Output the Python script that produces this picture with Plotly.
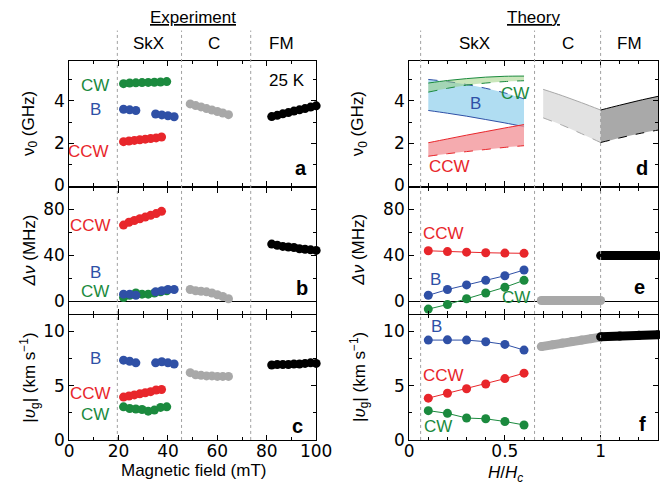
import plotly.graph_objects as go

W, H = 668, 487

# ---------------- Data: Experiment ----------------
exp_cw_x = [22, 24.5, 27, 29.5, 32, 34.5, 37, 39.5]
exp_cw_nu = [4.82, 4.85, 4.86, 4.87, 4.88, 4.89, 4.9, 4.92]
exp_b_x = [22, 24.5, 27, 35, 37.5, 40, 42.5]
exp_b_nu = [3.61, 3.58, 3.55, 3.38, 3.34, 3.3, 3.25]
exp_ccw_x = [22, 24.2, 26.4, 28.6, 30.8, 33, 35.2, 37.4]
exp_ccw_nu = [2.07, 2.1, 2.13, 2.16, 2.19, 2.22, 2.25, 2.29]
exp_c_x = [49, 51.2, 53.4, 55.6, 57.8, 60, 62.2, 64.5]
exp_c_nu = [3.86, 3.78, 3.72, 3.64, 3.57, 3.5, 3.43, 3.35]
exp_fm_x = [82, 84.25, 86.5, 88.75, 91, 93.25, 95.5, 97.75, 100]
exp_fm_nu = [3.26, 3.32, 3.39, 3.45, 3.52, 3.58, 3.64, 3.71, 3.77]

exp_ccw_dnu = [66, 68.5, 70, 71.5, 73, 74.5, 76, 78]
exp_cw_dnu = [3, 5, 7, 6, 6, 7, 8, 9]
exp_b_dnu = [6, 6, 5, 8, 9, 10, 10]
exp_c_dnu = [10, 9, 8.5, 8, 7, 5.5, 4, 2]
exp_fm_dnu = [49.5, 48.5, 47.5, 47, 46.5, 45.5, 45, 44.5, 44]

exp_b_vg = [7.35, 7.25, 7.1, 7.1, 7.2, 7.1, 7.0]
exp_ccw_vg = [3.95, 4.05, 4.15, 4.25, 4.35, 4.45, 4.6, 4.65]
exp_cw_vg = [3.05, 2.9, 2.85, 2.8, 2.65, 2.75, 3.0, 3.05]
exp_c_vg = [6.2, 6.0, 5.95, 5.9, 5.9, 5.85, 5.85, 5.85]
exp_fm_vg = [6.9, 6.95, 6.95, 6.95, 7.0, 7.0, 7.05, 7.1, 7.05]

# ---------------- Data: Theory ----------------
th_skx_x = [0.1, 0.2, 0.3, 0.4, 0.5, 0.6]
th_cw_top = [4.85, 4.97, 5.06, 5.13, 5.17, 5.18]
th_cw_bot = [4.42, 4.6, 4.75, 4.85, 4.92, 4.96]
th_b_top = [5.02, 4.92, 4.78, 4.6, 4.38, 4.1]
th_b_bot = [3.55, 3.42, 3.28, 3.12, 2.96, 2.78]
th_ccw_top = [2.02, 2.2, 2.38, 2.55, 2.72, 2.88]
th_ccw_bot = [1.38, 1.5, 1.6, 1.7, 1.8, 1.88]
th_c_x = [0.7, 0.8, 0.9, 1.0]
th_c_top = [4.55, 4.25, 3.92, 3.57]
th_c_bot = [3.2, 2.85, 2.45, 2.03]
th_fm_x = [1.0, 1.1, 1.2, 1.3]
th_fm_top = [3.57, 3.8, 4.02, 4.22]
th_fm_bot = [2.03, 2.25, 2.45, 2.62]

th_ccw_dnu = [43.7, 43, 42.5, 42, 41.7, 41.5]
th_b_dnu = [5, 10, 14, 18, 22, 27]
th_cw_dnu = [-7, -3, 2, 7, 12, 18]
th_c_line_x = [0.69, 1.0]
th_c_dnu = [0.5, 0.5]
th_fm_line_x = [1.0, 1.3]
th_fm_dnu = [39.5, 39.5]

th_b_vg = [9.2, 9.22, 9.2, 9.05, 8.8, 8.28]
th_ccw_vg = [3.85, 4.3, 4.72, 5.15, 5.65, 6.15]
th_cw_vg = [2.7, 2.45, 2.02, 1.95, 1.7, 1.38]
th_c_vg_x = [0.69, 0.75, 0.8, 0.85, 0.9, 0.95, 1.0]
th_c_vg = [8.6, 8.78, 8.92, 9.07, 9.2, 9.33, 9.47]
th_fm_vg_x = [1.0, 1.1, 1.2, 1.3]
th_fm_vg = [9.5, 9.58, 9.64, 9.7]

exp_bounds = [19.5, 45.5, 73.5]
th_bounds = [0.06, 0.655, 1.0]
phase_labels = ["SkX", "C", "FM"]

# ---------------- Styles ----------------
GREEN = "#1b8a3e"
BLUE = "#2f50a6"
RED = "#e8262b"
GRAY = "#a8a8a8"
BLACK = "#000000"
FONT = "Liberation Sans, Arial, sans-serif"
TFONT = "DejaVu Sans, sans-serif"

def px(x):
    return x / W

def py(y):
    return 1 - y / H

fig = go.Figure()

MS = 9

def dots(x, y, color, xa, ya, mode="markers", lw=1):
    fig.add_trace(go.Scatter(
        x=x, y=y, mode=mode, xaxis=xa, yaxis=ya,
        marker=dict(size=MS, color=color),
        line=dict(color=color, width=lw),
        cliponaxis=False, showlegend=False, hoverinfo="skip"))

# Experiment panel a
dots(exp_cw_x, exp_cw_nu, GREEN, "x", "y")
dots(exp_b_x, exp_b_nu, BLUE, "x", "y")
dots(exp_ccw_x, exp_ccw_nu, RED, "x", "y")
dots(exp_c_x, exp_c_nu, GRAY, "x", "y")
dots(exp_fm_x, exp_fm_nu, BLACK, "x", "y")
# panel b
dots(exp_ccw_x, exp_ccw_dnu, RED, "x2", "y2")
dots(exp_cw_x, exp_cw_dnu, GREEN, "x2", "y2")
dots(exp_b_x, exp_b_dnu, BLUE, "x2", "y2")
dots(exp_c_x, exp_c_dnu, GRAY, "x2", "y2")
dots(exp_fm_x, exp_fm_dnu, BLACK, "x2", "y2")
# panel c
dots(exp_b_x, exp_b_vg, BLUE, "x3", "y3")
dots(exp_ccw_x, exp_ccw_vg, RED, "x3", "y3")
dots(exp_cw_x, exp_cw_vg, GREEN, "x3", "y3")
dots(exp_c_x, exp_c_vg, GRAY, "x3", "y3")
dots(exp_fm_x, exp_fm_vg, BLACK, "x3", "y3")

# Theory panel d: bands
def band(x, lower, upper, fillcolor, color, lower_dash, upper_dash):
    fig.add_trace(go.Scatter(x=x, y=lower, mode="lines", xaxis="x4", yaxis="y4",
                             line=dict(color=color, width=1, dash=lower_dash, shape="spline"),
                             showlegend=False, hoverinfo="skip"))
    fig.add_trace(go.Scatter(x=x, y=upper, mode="lines", xaxis="x4", yaxis="y4",
                             fill="tonexty", fillcolor=fillcolor,
                             line=dict(color=color, width=1, dash=upper_dash, shape="spline"),
                             showlegend=False, hoverinfo="skip"))

band(th_skx_x, th_b_bot, th_b_top, "rgba(150,210,238,0.75)", BLUE, "solid", "dash")
band(th_skx_x, th_cw_bot, th_cw_top, "rgba(150,205,120,0.5)", GREEN, "dash", "solid")
band(th_skx_x, th_ccw_bot, th_ccw_top, "rgba(242,150,155,0.8)", RED, "dash", "solid")
band(th_c_x, th_c_bot, th_c_top, "#e2e2e2", GRAY, "dash", "solid")
band(th_fm_x, th_fm_bot, th_fm_top, "#a9a9a9", BLACK, "dash", "solid")

# panel e
dots(th_skx_x, th_ccw_dnu, RED, "x5", "y5", mode="lines+markers")
dots(th_skx_x, th_b_dnu, BLUE, "x5", "y5", mode="lines+markers")
dots(th_skx_x, th_cw_dnu, GREEN, "x5", "y5", mode="lines+markers")
dots(th_c_line_x, th_c_dnu, GRAY, "x5", "y5", mode="lines+markers", lw=MS)
dots(th_fm_line_x, th_fm_dnu, BLACK, "x5", "y5", mode="lines+markers", lw=MS)
# panel f
dots(th_skx_x, th_b_vg, BLUE, "x6", "y6", mode="lines+markers")
dots(th_skx_x, th_ccw_vg, RED, "x6", "y6", mode="lines+markers")
dots(th_skx_x, th_cw_vg, GREEN, "x6", "y6", mode="lines+markers")
dots(th_c_vg_x, th_c_vg, GRAY, "x6", "y6", mode="lines+markers", lw=MS)
dots(th_fm_vg_x, th_fm_vg, BLACK, "x6", "y6", mode="lines+markers", lw=MS)

# ---------------- Axes ----------------
LX = [px(58), px(313)]
RX = [px(409), px(666)]
ROWS = [[py(181.5), py(54)], [py(312), py(183.5)], [py(441), py(313)]]
YR = [[-0.02, 5.9], [-10.9, 98.5], [0, 11.55]]
YD = [(2, 1), (40, 20), (5, 2.5)]

def axis_common():
    return dict(showline=True, linecolor="black", linewidth=1, mirror="allticks",
                ticks="inside", ticklen=5, tickwidth=1, tickcolor="black",
                showgrid=False, zeroline=False,
                tickfont=dict(family=TFONT, size=17, color="black"))

layout = dict(width=W, height=H, margin=dict(l=0, r=0, t=0, b=0),
              plot_bgcolor="white", paper_bgcolor="white",
              font=dict(family=FONT, size=16, color="black"), showlegend=False)

for i in range(6):
    col = 0 if i < 3 else 1
    row = i % 3
    n = "" if i == 0 else str(i + 1)
    xa = axis_common()
    xa.update(domain=LX if col == 0 else RX, anchor="y" + n, ticklabelstandoff=-4)
    if col == 0:
        xa.update(range=[0, 100], dtick=20, tick0=0,
                  minor=dict(dtick=10, ticks="inside", ticklen=3, tickcolor="black"))
    else:
        xa.update(range=[0, 1.3], tickvals=[0, 0.5, 1], ticktext=["0", "0.5", "1"],
                  minor=dict(dtick=0.1, tick0=0, ticks="inside", ticklen=3, tickcolor="black"))
    xa["showticklabels"] = (row == 2)
    ya = axis_common()
    ya.update(domain=ROWS[row], anchor="x" + n, range=YR[row], dtick=YD[row][0], tick0=0,
              minor=dict(dtick=YD[row][1], tick0=0, ticks="inside", ticklen=3, tickcolor="black"))
    if row == 1:
        ya.update(zeroline=True, zerolinecolor="black", zerolinewidth=1)
    layout["xaxis" + n] = xa
    layout["yaxis" + n] = ya

fig.update_layout(**layout)

# ---------------- Phase boundary lines ----------------
for b in exp_bounds:
    fig.add_shape(type="line", xref="x3", yref="paper", x0=b, x1=b, y0=py(441), y1=py(23),
                  line=dict(color="#a0a0a0", width=1, dash="dot"), layer="above")
for b in th_bounds:
    fig.add_shape(type="line", xref="x6", yref="paper", x0=b, x1=b, y0=py(441), y1=py(23),
                  line=dict(color="#a0a0a0", width=1, dash="dot"), layer="above")

# ---------------- Text ----------------
def txt(x, y, s, color="black", size=16, xanchor="center", angle=0, bold=False):
    fig.add_annotation(x=px(x), y=py(y), xref="paper", yref="paper", text=s,
                       showarrow=False, xanchor=xanchor, yanchor="middle", textangle=angle,
                       font=dict(family=FONT, size=size, color=color,
                                 weight="bold" if bold else "normal"))

txt(186, 10, "<u>Experiment</u>", size=17)
txt(537, 10, "<u>Theory</u>", size=17)
for s, x in zip(phase_labels, [140, 208, 277]):
    txt(x, 36, s, size=17)
for s, x in zip(phase_labels, [476, 573, 637]):
    txt(x, 36, s, size=17)

txt(283, 74, "25 K", size=17)
# panel a labels
txt(85, 79, "CW", GREEN, 17)
txt(85, 104, "B", BLUE, 17)
txt(78, 147, "CCW", RED, 17)
# panel b labels
txt(80, 222, "CCW", RED, 17)
txt(85, 270, "B", BLUE, 17)
txt(85, 289, "CW", GREEN, 17)
# panel c labels
txt(85, 358, "B", BLUE, 17)
txt(80, 394, "CCW", RED, 17)
txt(85, 415, "CW", GREEN, 17)
# panel d labels
txt(518, 87, "CW", GREEN, 17)
txt(478, 97, "B", BLUE, 17)
txt(451, 162, "CCW", RED, 17)
# panel e labels
txt(444, 230, "CCW", RED, 17)
txt(436, 277, "B", BLUE, 17)
txt(519, 296, "CW", GREEN, 17)
# panel f labels
txt(437, 325, "B", BLUE, 17)
txt(444, 375, "CCW", RED, 17)
txt(439, 427, "CW", GREEN, 17)

# panel letters
for s, x, y in [("a", 297, 163), ("b", 298, 286), ("c", 294, 427),
                ("d", 649, 163), ("e", 647, 285), ("f", 650, 425)]:
    txt(x, y, s, size=20, bold=True)

# axis titles
for x0 in [17, 357]:
    txt(x0, 118, "ν<sub>0</sub> (GHz)", size=17, angle=-90)
    txt(x0, 247, "<i>Δν</i> (MHz)", size=17, angle=-90)
    txt(x0, 377, "|<i>υ</i><sub>g</sub>| (km s<sup>−1</sup>)", size=17, angle=-90)
txt(186, 472, "Magnetic field (mT)", size=17)
txt(508, 476, "<i>H</i>/<i>H<sub>c</sub></i>", size=17)

fig.write_html("out.html")
